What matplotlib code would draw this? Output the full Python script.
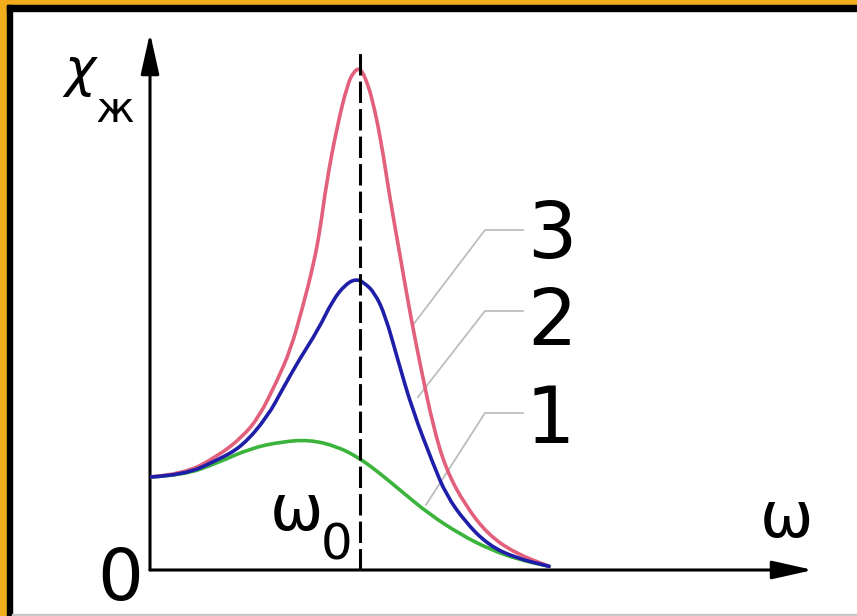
import matplotlib
matplotlib.use("Agg")
import matplotlib.pyplot as plt
from matplotlib.patches import Rectangle, PathPatch
from matplotlib.path import Path

# curve 3 (red), 2 (blue), 1 (green): omega / omega0 and chi (static value = 1)
w3 = [0, 0.16, 0.32, 0.44, 0.52, 0.6, 0.67, 0.73, 0.78, 0.81, 0.84, 0.89, 0.94, 0.97, 1.0,
      1.03, 1.06, 1.1, 1.14, 1.19, 1.24, 1.29, 1.35, 1.41, 1.5, 1.61, 1.74, 1.9]
chi3 = [1.0, 1.03, 1.22, 1.43, 1.65, 2.01, 2.37, 2.85, 3.3, 3.66, 4.16, 4.76, 5.22, 5.36, 5.4,
        5.27, 5.05, 4.62, 4.03, 3.39, 2.74, 2.17, 1.53, 1.08, 0.7, 0.38, 0.18, 0.04]

w2 = [0, 0.16, 0.32, 0.44, 0.56, 0.63, 0.71, 0.8, 0.87, 0.93, 0.98, 1.02, 1.07, 1.12, 1.18,
      1.25, 1.35, 1.41, 1.5, 1.61, 1.74, 1.9]
chi2 = [1.0, 1.02, 1.18, 1.33, 1.65, 1.94, 2.26, 2.58, 2.9, 3.07, 3.13, 3.09, 2.98, 2.74, 2.26,
        1.72, 1.13, 0.81, 0.52, 0.27, 0.13, 0.04]

w1 = [0, 0.16, 0.32, 0.48, 0.63, 0.76, 0.89, 1.0, 1.1, 1.19, 1.33, 1.48, 1.62, 1.76, 1.9]
chi1 = [1.0, 1.02, 1.15, 1.31, 1.38, 1.4, 1.33, 1.2, 1.03, 0.86, 0.6, 0.38, 0.22, 0.11, 0.04]

omega0 = 1.0
curve_labels = ["3", "2", "1"]

W, H = 857, 616


def fx(px):
    return px / W


def fy(py):
    return 1 - py / H


def smooth_curve(ax, xs, ys, color):
    # quadratic bezier through the midpoints, read points as control points
    verts = [(xs[0], ys[0])]
    codes = [Path.MOVETO]
    for i in range(1, len(xs) - 1):
        verts += [(xs[i], ys[i]), ((xs[i] + xs[i + 1]) / 2, (ys[i] + ys[i + 1]) / 2)]
        codes += [Path.CURVE3, Path.CURVE3]
    verts.append((xs[-1], ys[-1]))
    codes.append(Path.LINETO)
    patch = PathPatch(Path(verts, codes), fill=False, edgecolor=color, lw=2.6,
                      capstyle="round", joinstyle="round", zorder=4)
    ax.add_patch(patch)


fig = plt.figure(figsize=(W / 100, H / 100), dpi=100)
fig.patch.set_facecolor("white")

# frame: orange + black strip on top and left
fig.add_artist(Rectangle((0, fy(5)), 1, 5 / H, transform=fig.transFigure, color="#f2ad1c", zorder=0))
fig.add_artist(Rectangle((0, 0), 7 / W, 1, transform=fig.transFigure, color="#f2ad1c", zorder=0))
fig.add_artist(Rectangle((7 / W, fy(11)), 1, 6 / H, transform=fig.transFigure, color="black", zorder=0))
fig.add_artist(Rectangle((7 / W, 0), 5 / W, fy(5), transform=fig.transFigure, color="black", zorder=0))
fig.add_artist(Rectangle((12 / W, 0), 1, 2 / H, transform=fig.transFigure, color="#c8c8c8", zorder=0))

ax = fig.add_axes([fx(150), fy(570), (813 - 150) / W, (570 - 33) / H])
ax.set_xlim(0, (813 - 150) / 210)
ax.set_ylim(0, (570 - 33) / 93)
ax.axis("off")

smooth_curve(ax, w1, chi1, "#3cb43c")
smooth_curve(ax, w3, chi3, "#e2607c")
smooth_curve(ax, w2, chi2, "#1e1ea8")

ax.axvline(omega0, ymin=0, ymax=5.56 / ax.get_ylim()[1], color="black", lw=2.2,
           ls=(0, (7, 2)), zorder=6)

arrow = dict(arrowstyle="-|>,head_length=1.25,head_width=0.28", color="black", lw=2.2,
             mutation_scale=20, shrinkA=0, shrinkB=0)
ax.annotate("", xy=(ax.get_xlim()[1], 0), xytext=(0, 0), arrowprops=arrow, annotation_clip=False)
ax.annotate("", xy=(0, ax.get_ylim()[1]), xytext=(0, 0), arrowprops=arrow, annotation_clip=False)

# leader lines to curve numbers
leaders = [
    [(1.776, 3.656), (1.595, 3.656), (1.252, 2.634)],
    [(1.776, 2.785), (1.595, 2.785), (1.276, 1.86)],
    [(1.776, 1.688), (1.595, 1.688), (1.314, 0.699)],
]
for pts in leaders:
    ax.plot([p[0] for p in pts], [p[1] for p in pts], color="#bdbdbd", lw=1.3, zorder=2)

fig.text(fx(552), fy(258), curve_labels[0], fontsize=56, ha="center", va="baseline")
fig.text(fx(552), fy(345), curve_labels[1], fontsize=56, ha="center", va="baseline")
fig.text(fx(550), fy(443), curve_labels[2], fontsize=56, ha="center", va="baseline")

fig.text(fx(120), fy(600), "0", fontsize=52, ha="center", va="baseline")
fig.text(fx(296), fy(530), "ω", fontsize=46, ha="center", va="baseline")
fig.text(fx(337), fy(560), "0", fontsize=36, ha="center", va="baseline")
fig.text(fx(787), fy(537), "ω", fontsize=46, ha="center", va="baseline")

fig.text(fx(80), fy(86), "χ", fontsize=38, style="italic", ha="center", va="baseline")
fig.text(fx(115), fy(122), "ж", fontsize=31, ha="center", va="baseline")

fig.savefig("out.png", dpi=100, facecolor="white")
